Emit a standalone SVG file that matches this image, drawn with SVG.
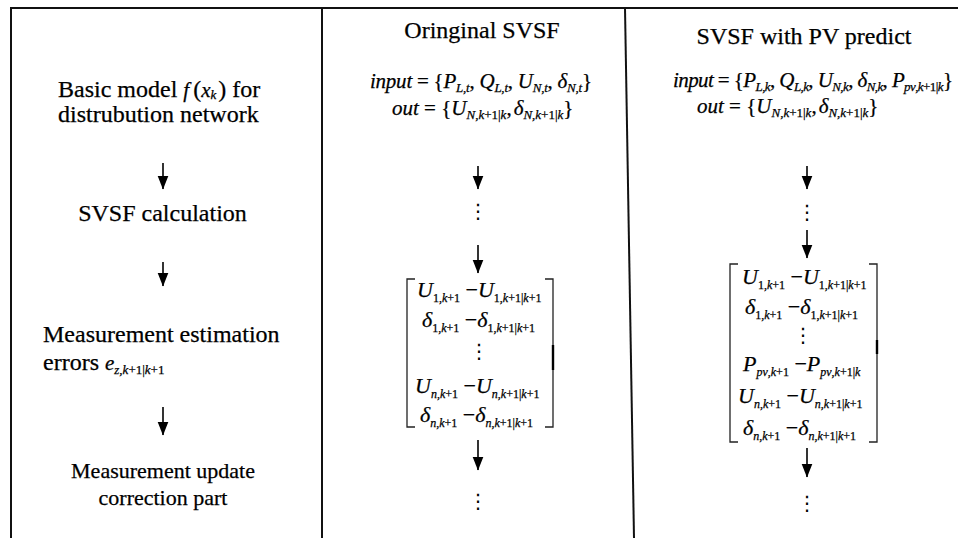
<svg xmlns="http://www.w3.org/2000/svg" width="958" height="538" viewBox="0 0 958 538" font-family="'Liberation Serif', 'Times New Roman', 'DejaVu Serif', serif">
  <defs>
    <style>
      text { font-family: "Liberation Serif", "Times New Roman", "DejaVu Serif", serif; fill: #000; stroke: #000; stroke-width: 0.25; }
      .t { font-size: 24px; }
      .t2 { font-size: 22px; }
      .m { font-style: italic; font-size: 21px; }
      .mx { font-style: italic; font-size: 22px; }
      .u { font-style: normal; }
      .s { font-size: 13px; }
      .sx { font-size: 12px; }
      .dots { font-family: "DejaVu Serif", "DejaVu Sans", serif; font-size: 20px; stroke: none; }
      .frame { stroke: #111; stroke-width: 2; fill: none; }
      .bracket { stroke: #222; stroke-width: 1.3; fill: none; }
      .arrow { stroke: #000; stroke-width: 1.6; fill: none; marker-end: url(#head); }
    </style>
    <marker id="head" markerUnits="userSpaceOnUse" markerWidth="12" markerHeight="14" refX="6" refY="13.5" orient="0" viewBox="0 0 12 14">
      <path d="M0.5,0 L11.5,0 L6,14 Z" fill="#000"/>
    </marker>
  </defs>

  <rect width="958" height="538" fill="#fff"/>

  <!-- table frame -->
  <g id="frame">
    <line class="frame" x1="11" y1="8" x2="958" y2="8"/>
    <line class="frame" x1="11" y1="7" x2="11" y2="538"/>
    <line class="frame" x1="322" y1="8" x2="322" y2="538"/>
    <line class="frame" x1="625" y1="8" x2="634" y2="538"/>
  </g>

  <!-- left column: process steps -->
  <g id="step-model">
    <text class="t" x="58" y="97">Basic model <tspan class="m" font-size="23">f</tspan><tspan class="u" dx="4">(</tspan><tspan class="m" font-size="23">x</tspan><tspan class="m s" dy="2">k</tspan><tspan dy="-2" dx="2">) for</tspan></text>
    <text class="t" x="58" y="122">distrubution network</text>
  </g>
  <g id="step-svsf">
    <text class="t" x="162.5" y="221" text-anchor="middle">SVSF calculation</text>
  </g>
  <g id="step-errors">
    <text class="t" x="43" y="342">Measurement estimation</text>
    <text class="t" x="43" y="370">errors <tspan class="m" font-size="20">e</tspan><tspan class="s" dy="4"><tspan class="m s">z</tspan>,<tspan class="m s">k</tspan>+1|<tspan class="m s">k</tspan>+1</tspan></text>
  </g>
  <g id="step-update">
    <text class="t2" x="163" y="478" text-anchor="middle">Measurement update</text>
    <text class="t2" x="163" y="505" text-anchor="middle">correction part</text>
  </g>

  <!-- middle column: original SVSF -->
  <g id="orig-title">
    <text class="t" x="482" y="38" text-anchor="middle">Oringinal SVSF</text>
  </g>
  <g id="orig-io">
    <text class="m" x="370" y="88" textLength="222" lengthAdjust="spacing">input<tspan class="u"> = {</tspan>P<tspan class="s" dy="4">L<tspan class="u">,</tspan>t</tspan><tspan class="u" dy="-4">, </tspan>Q<tspan class="s" dy="4">L<tspan class="u">,</tspan>t</tspan><tspan class="u" dy="-4">, </tspan>U<tspan class="s" dy="4">N<tspan class="u">,</tspan>t</tspan><tspan class="u" dy="-4">, </tspan>δ<tspan class="s" dy="4">N<tspan class="u">,</tspan>t</tspan><tspan class="u" dy="-4">}</tspan></text>
    <text class="m" x="392" y="115">out<tspan class="u"> = {</tspan>U<tspan class="s" dy="4">N<tspan class="u">,</tspan>k<tspan class="u">+1|</tspan>k</tspan><tspan class="u" dy="-4">,</tspan><tspan dx="2">δ</tspan><tspan class="s" dy="4">N<tspan class="u">,</tspan>k<tspan class="u">+1|</tspan>k</tspan><tspan class="u" dy="-4">}</tspan></text>
  </g>
  <g id="orig-skip1">
    <text class="dots" x="478" y="218" text-anchor="middle">⋮</text>
  </g>
  <g id="orig-matrix">
    <path class="bracket" d="M415,279 H407 V427 H415"/>
    <path class="bracket" d="M545,279 H553 V427 H545"/>
    <line x1="553" y1="345" x2="553" y2="370" stroke="#000" stroke-width="2.4"/>
    <text class="mx" x="417" y="297">U<tspan class="sx" dy="5"><tspan class="u">1,</tspan>k<tspan class="u">+1</tspan></tspan><tspan class="u" dy="-5"> −</tspan>U<tspan class="sx" dy="5"><tspan class="u">1,</tspan>k<tspan class="u">+1|</tspan>k<tspan class="u">+1</tspan></tspan></text>
    <text class="mx" x="422" y="327">δ<tspan class="sx" dy="5"><tspan class="u">1,</tspan>k<tspan class="u">+1</tspan></tspan><tspan class="u" dy="-5"> −</tspan>δ<tspan class="sx" dy="5"><tspan class="u">1,</tspan>k<tspan class="u">+1|</tspan>k<tspan class="u">+1</tspan></tspan></text>
    <text class="dots" x="479" y="358" text-anchor="middle">⋮</text>
    <text class="mx" x="415" y="393">U<tspan class="sx" dy="5">n<tspan class="u">,</tspan>k<tspan class="u">+1</tspan></tspan><tspan class="u" dy="-5"> −</tspan>U<tspan class="sx" dy="5">n<tspan class="u">,</tspan>k<tspan class="u">+1|</tspan>k<tspan class="u">+1</tspan></tspan></text>
    <text class="mx" x="420" y="422">δ<tspan class="sx" dy="5">n<tspan class="u">,</tspan>k<tspan class="u">+1</tspan></tspan><tspan class="u" dy="-5"> −</tspan>δ<tspan class="sx" dy="5">n<tspan class="u">,</tspan>k<tspan class="u">+1|</tspan>k<tspan class="u">+1</tspan></tspan></text>
  </g>
  <g id="orig-skip2">
    <text class="dots" x="478" y="508" text-anchor="middle">⋮</text>
  </g>

  <!-- right column: SVSF with PV prediction -->
  <g id="pv-title">
    <text class="t" x="804" y="44" text-anchor="middle">SVSF with PV predict</text>
  </g>
  <g id="pv-io">
    <text class="m" x="673" y="87" textLength="280" lengthAdjust="spacing">input<tspan class="u"> = {</tspan>P<tspan class="s" dy="4">L<tspan class="u">,</tspan>k</tspan><tspan class="u" dy="-4">, </tspan>Q<tspan class="s" dy="4">L<tspan class="u">,</tspan>k</tspan><tspan class="u" dy="-4">, </tspan>U<tspan class="s" dy="4">N<tspan class="u">,</tspan>k</tspan><tspan class="u" dy="-4">, </tspan>δ<tspan class="s" dy="4">N<tspan class="u">,</tspan>k</tspan><tspan class="u" dy="-4">, </tspan>P<tspan class="s" dy="4">pv<tspan class="u">,</tspan>k<tspan class="u">+1|</tspan>k</tspan><tspan class="u" dy="-4">}</tspan></text>
    <text class="m" x="697" y="113">out<tspan class="u"> = {</tspan>U<tspan class="s" dy="4">N<tspan class="u">,</tspan>k<tspan class="u">+1|</tspan>k</tspan><tspan class="u" dy="-4">,</tspan><tspan dx="2">δ</tspan><tspan class="s" dy="4">N<tspan class="u">,</tspan>k<tspan class="u">+1|</tspan>k</tspan><tspan class="u" dy="-4">}</tspan></text>
  </g>
  <g id="pv-skip1">
    <text class="dots" x="807" y="219" text-anchor="middle">⋮</text>
  </g>
  <g id="pv-matrix">
    <path class="bracket" d="M738,264 H730 V442 H738"/>
    <path class="bracket" d="M869,264 H877 V442 H869"/>
    <line x1="877" y1="340" x2="877" y2="354" stroke="#000" stroke-width="2.4"/>
    <text class="mx" x="742" y="284">U<tspan class="sx" dy="5"><tspan class="u">1,</tspan>k<tspan class="u">+1</tspan></tspan><tspan class="u" dy="-5"> −</tspan>U<tspan class="sx" dy="5"><tspan class="u">1,</tspan>k<tspan class="u">+1|</tspan>k<tspan class="u">+1</tspan></tspan></text>
    <text class="mx" x="745" y="314">δ<tspan class="sx" dy="5"><tspan class="u">1,</tspan>k<tspan class="u">+1</tspan></tspan><tspan class="u" dy="-5"> −</tspan>δ<tspan class="sx" dy="5"><tspan class="u">1,</tspan>k<tspan class="u">+1|</tspan>k<tspan class="u">+1</tspan></tspan></text>
    <text class="dots" x="803" y="342" text-anchor="middle">⋮</text>
    <text class="mx" x="743" y="371">P<tspan class="sx" dy="5">pv<tspan class="u">,</tspan>k<tspan class="u">+1</tspan></tspan><tspan class="u" dy="-5"> −</tspan>P<tspan class="sx" dy="5">pv<tspan class="u">,</tspan>k<tspan class="u">+1|</tspan>k</tspan></text>
    <text class="mx" x="738" y="403">U<tspan class="sx" dy="5">n<tspan class="u">,</tspan>k<tspan class="u">+1</tspan></tspan><tspan class="u" dy="-5"> −</tspan>U<tspan class="sx" dy="5">n<tspan class="u">,</tspan>k<tspan class="u">+1|</tspan>k<tspan class="u">+1</tspan></tspan></text>
    <text class="mx" x="743" y="435">δ<tspan class="sx" dy="5">n<tspan class="u">,</tspan>k<tspan class="u">+1</tspan></tspan><tspan class="u" dy="-5"> −</tspan>δ<tspan class="sx" dy="5">n<tspan class="u">,</tspan>k<tspan class="u">+1|</tspan>k<tspan class="u">+1</tspan></tspan></text>
  </g>
  <g id="pv-skip2">
    <text class="dots" x="807" y="510" text-anchor="middle">⋮</text>
  </g>

  <!-- connectors -->
  <g id="connectors">
    <line class="arrow" x1="163" y1="163" x2="163" y2="189"/>
    <line class="arrow" x1="163" y1="262" x2="163" y2="286"/>
    <line class="arrow" x1="163" y1="407" x2="163" y2="435"/>
    <line class="arrow" x1="478" y1="166" x2="478" y2="189"/>
    <line class="arrow" x1="478" y1="245" x2="478" y2="273"/>
    <line class="arrow" x1="478" y1="440" x2="478" y2="470"/>
    <line class="arrow" x1="807" y1="166" x2="807" y2="189"/>
    <line class="arrow" x1="807" y1="230" x2="807" y2="258"/>
    <line class="arrow" x1="807" y1="448" x2="807" y2="477"/>
  </g>
</svg>
